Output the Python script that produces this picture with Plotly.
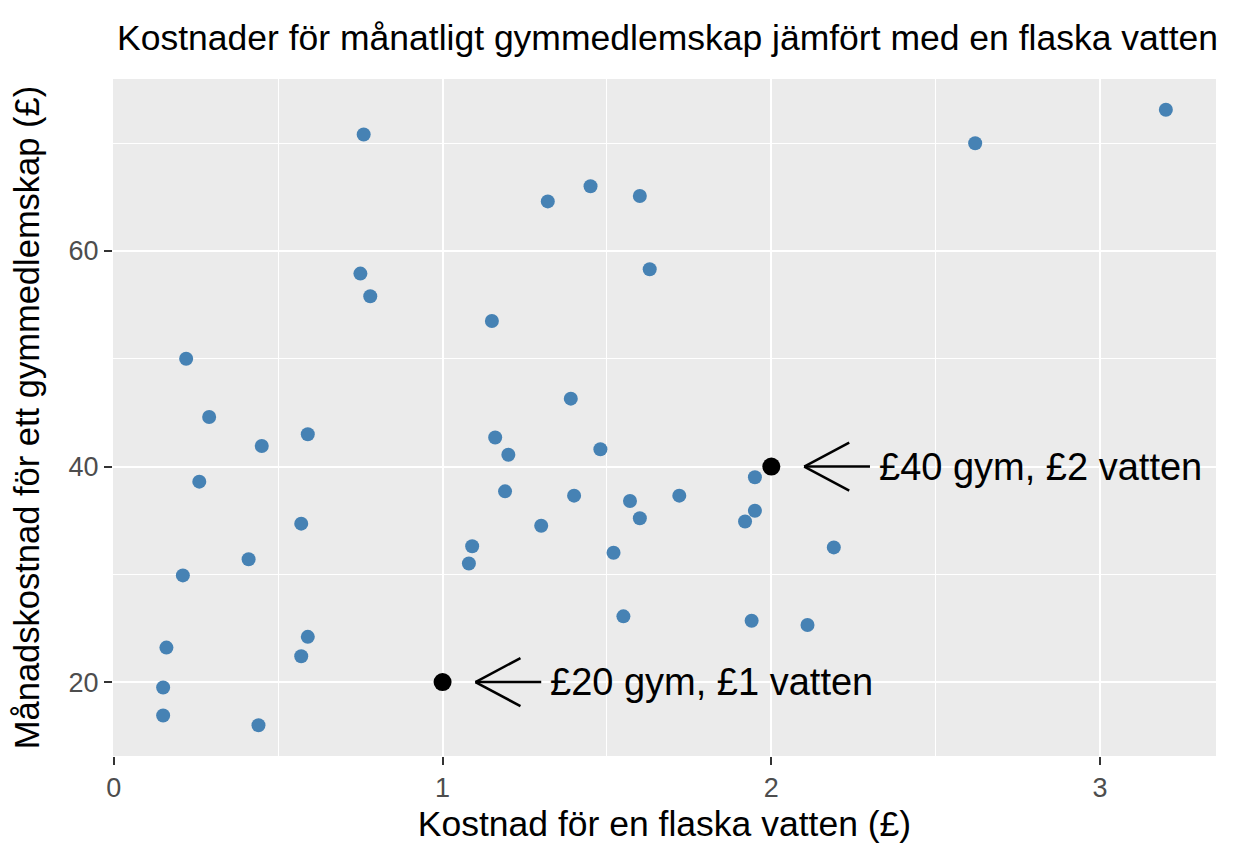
import plotly.graph_objects as go

# cost of a bottle of water (x) vs monthly gym membership (y), in pounds
water = [0.76, 0.75, 0.78, 0.22, 0.29, 0.45, 0.59, 0.26, 0.57, 0.41, 0.21,
	0.59, 0.57, 0.16, 0.15, 0.15, 0.44, 1.32, 1.45, 1.60, 1.63, 1.15, 1.39,
	1.16, 1.20, 1.48, 1.19, 1.40, 1.57, 1.60, 1.72, 1.95, 1.95, 1.92, 1.30,
	1.09, 1.08, 1.52, 1.55, 1.94, 2.11, 2.19, 2.62, 3.20]
gym = [70.8, 57.9, 55.8, 50.0, 44.6, 41.9, 43.0, 38.6, 34.7, 31.4, 29.9,
	24.2, 22.4, 23.2, 19.5, 16.9, 16.0, 64.6, 66.0, 65.1, 58.3, 53.5, 46.3,
	42.7, 41.1, 41.6, 37.7, 37.3, 36.8, 35.2, 37.3, 39.0, 35.9, 34.9, 34.5,
	32.6, 31.0, 32.0, 26.1, 25.7, 25.3, 32.5, 70.0, 73.1]

# highlighted reference points
ref_water = [1, 2]
ref_gym = [20, 40]
ref_labels = ["£20 gym, £1 vatten", "£40 gym, £2 vatten"]

title = "Kostnader för månatligt gymmedlemskap jämfört med en flaska vatten"
x_title = "Kostnad för en flaska vatten (£)"
y_title = "Månadskostnad för ett gymmedlemskap (£)"


def expand(vals, frac=0.05):
	lo, hi = min(vals), max(vals)
	pad = (hi - lo) * frac
	return [lo - pad, hi + pad]


font_fam = "Liberation Sans, Arial, sans-serif"

fig = go.Figure()
fig.add_trace(go.Scatter(
	x=water, y=gym, mode="markers",
	marker=dict(color="#4682B4", size=14, line=dict(width=0)),
	showlegend=False))
fig.add_trace(go.Scatter(
	x=ref_water, y=ref_gym, mode="markers",
	marker=dict(color="black", size=18, line=dict(width=0)),
	showlegend=False))

# open arrows pointing back at the reference points, label to the right
for xv, yv, lab in zip(ref_water, ref_gym, ref_labels):
	tip = xv + 0.1
	fig.add_shape(type="line", xref="x", yref="y",
		x0=xv + 0.3, x1=tip, y0=yv, y1=yv,
		line=dict(color="black", width=2.5))
	for dy in (24, -24):
		fig.add_shape(type="line", xref="x", yref="y",
			xsizemode="pixel", xanchor=tip, x0=0, x1=45,
			ysizemode="pixel", yanchor=yv, y0=0, y1=dy,
			line=dict(color="black", width=2.5))
	fig.add_annotation(x=xv + 0.32, y=yv, text=lab, showarrow=False,
		xanchor="left", yanchor="middle",
		font=dict(family=font_fam, size=38, color="black"))

# page has an 8px body margin, so the figure is 8px smaller than the window
fig.update_layout(
	width=1226, height=856,
	margin=dict(l=105, r=18, t=71, b=108),
	paper_bgcolor="white", plot_bgcolor="#EBEBEB",
	title=dict(text=title, x=0.0889, xanchor="left", y=0.966, yanchor="middle",
		font=dict(family=font_fam, size=35.5, color="black")),
	font=dict(family=font_fam))

fig.update_xaxes(
	range=expand(water + ref_water), dtick=1, tick0=0,
	showgrid=True, gridcolor="white", gridwidth=2,
	minor=dict(showgrid=True, gridcolor="white", gridwidth=1, dtick=0.5, tick0=0),
	zeroline=False, showline=False,
	ticks="outside", ticklen=8, tickwidth=2, tickcolor="#333333",
	tickfont=dict(family=font_fam, size=27, color="#4D4D4D"),
	title=dict(text=x_title, standoff=8,
		font=dict(family=font_fam, size=35.5, color="black")))
fig.update_yaxes(
	range=expand(gym + ref_gym), dtick=20, tick0=0,
	showgrid=True, gridcolor="white", gridwidth=2,
	minor=dict(showgrid=True, gridcolor="white", gridwidth=1, dtick=10, tick0=0),
	zeroline=False, showline=False,
	ticks="outside", ticklen=8, tickwidth=2, tickcolor="#333333",
	tickfont=dict(family=font_fam, size=27, color="#4D4D4D"),
	title=dict(text=y_title, standoff=18,
		font=dict(family=font_fam, size=34.5, color="black")))

fig.write_html("out.html")
